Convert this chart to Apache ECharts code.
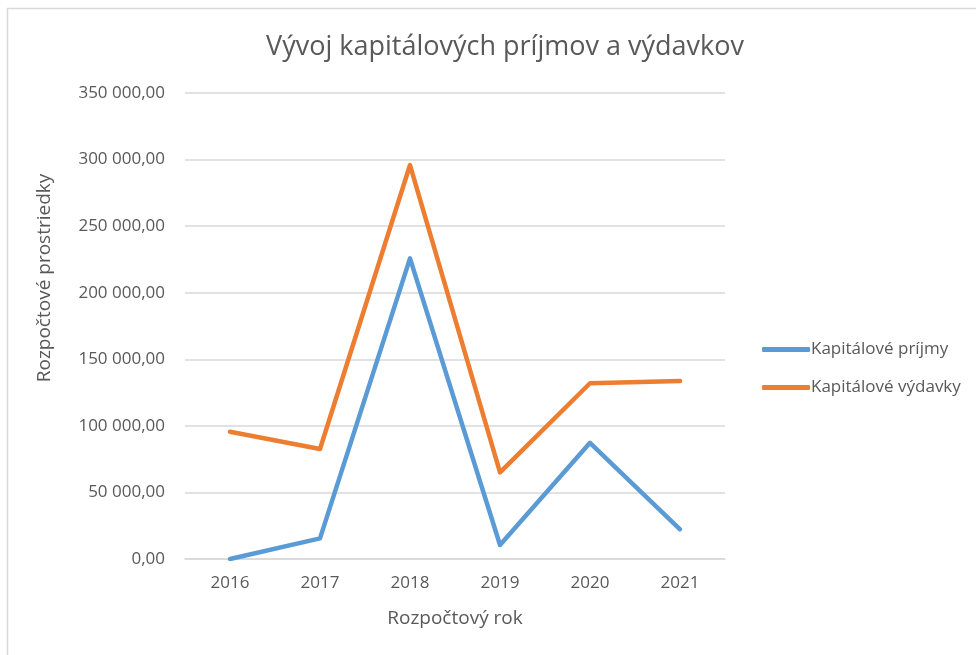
<!DOCTYPE html>
<html>
<head>
<meta charset="utf-8">
<script src="https://cdn.jsdelivr.net/npm/echarts@6/dist/echarts.min.js"></script>
<style>
html,body{margin:0;padding:0;background:#fff;}
#chart{width:976px;height:655px;}
</style>
</head>
<body>
<div id="chart"></div>
<script>
const years = ['2016', '2017', '2018', '2019', '2020', '2021'];
const prijmy = [0, 15500, 225800, 10500, 87300, 22300];
const vydavky = [95600, 82600, 295900, 65100, 132000, 133700];
const seriesNames = ['Kapitálové príjmy', 'Kapitálové výdavky'];
const titleText = 'Vývoj kapitálových príjmov a výdavkov';
const xName = 'Rozpočtový rok';
const yName = 'Rozpočtové prostriedky';

const FONT = '"Open Sans", "Noto Sans", sans-serif';
const TXT = '#595959';

function fmt(v) {
  const s = Math.round(v).toString().replace(/\B(?=(\d{3})+(?!\d))/g, ' ');
  return s + ',00';
}

const chart = echarts.init(document.getElementById('chart'));
chart.setOption({
  backgroundColor: '#fff',
  animation: false,
  graphic: [{
    type: 'rect',
    shape: { x: 7.5, y: 8.5, width: 1000, height: 700 },
    style: { fill: 'none', stroke: '#d9d9d9', lineWidth: 1.5 },
    silent: true
  }, {
    type: 'text',
    x: 45, y: 278,
    rotation: Math.PI / 2,
    style: {
      text: yName, fontFamily: FONT, fontSize: 19, fill: TXT,
      align: 'center', verticalAlign: 'middle'
    },
    silent: true
  }],
  title: {
    text: titleText,
    left: 500, top: 29, textAlign: 'center',
    textStyle: { fontFamily: FONT, fontSize: 27, fontWeight: 'normal', color: TXT }
  },
  legend: {
    orient: 'vertical',
    left: 757, top: 336,
    icon: 'roundRect',
    itemWidth: 48, itemHeight: 5, itemGap: 21,
    textStyle: { fontFamily: FONT, fontSize: 17, color: TXT, padding: [0, 0, 0, -4], lineHeight: 16 },
    data: seriesNames
  },
  grid: { left: 185, right: 251, top: 93, bottom: 96, containLabel: false },
  xAxis: {
    type: 'category',
    data: years,
    boundaryGap: true,
    name: xName,
    nameLocation: 'middle',
    nameGap: 50,
    nameTextStyle: { fontFamily: FONT, fontSize: 19, color: TXT },
    axisLine: { lineStyle: { color: '#d9d9d9', width: 1.5 } },
    axisTick: { show: false },
    axisLabel: { fontFamily: FONT, fontSize: 17, color: TXT, margin: 16 }
  },
  yAxis: {
    type: 'value',
    min: 0, max: 350000, interval: 50000,
    axisLine: { show: false },
    axisTick: { show: false },
    axisLabel: { fontFamily: FONT, fontSize: 17, color: TXT, margin: 20, formatter: fmt },
    splitLine: { lineStyle: { color: '#d9d9d9', width: 1.5 } }
  },
  series: [
    {
      name: seriesNames[0], type: 'line', data: prijmy,
      symbol: 'none', color: '#5b9bd5',
      lineStyle: { width: 4.5, cap: 'round', join: 'round' }
    },
    {
      name: seriesNames[1], type: 'line', data: vydavky,
      symbol: 'none', color: '#ed7d31',
      lineStyle: { width: 4.5, cap: 'round', join: 'round' }
    }
  ]
});
</script>
</body>
</html>
